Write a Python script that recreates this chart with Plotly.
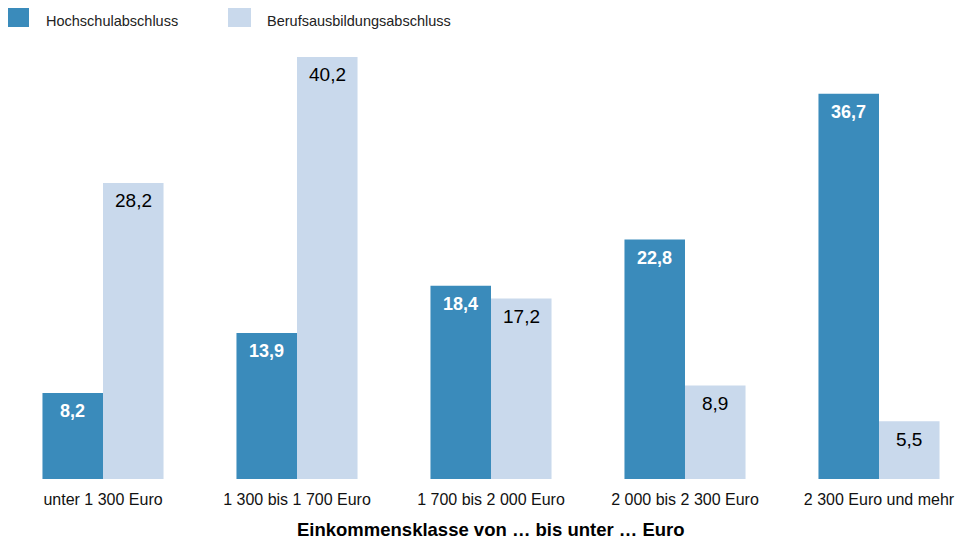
import plotly.graph_objects as go

categories = ["unter 1 300 Euro", "1 300 bis 1 700 Euro", "1 700 bis 2 000 Euro",
              "2 000 bis 2 300 Euro", "2 300 Euro und mehr"]
hochschule = [8.2, 13.9, 18.4, 22.8, 36.7]
beruf = [28.2, 40.2, 17.2, 8.9, 5.5]
series_names = ["Hochschulabschluss", "Berufsausbildungsabschluss"]
x_title = "Einkommensklasse von … bis unter … Euro"

DARK = "#3A8BBB"
LIGHT = "#C9D9EC"
FONT = "Liberation Sans, Arial, sans-serif"

OFF = 8  # page body margin
W, H = 963 - OFF, 539 - OFF
BASE_SCREEN = 479
MT = 40 - OFF
MB = (539 - BASE_SCREEN)
PLOT_H = H - MT - MB

def py(p):
    return (BASE_SCREEN - p) / PLOT_H

def px(p):
    return (p - OFF) / W

fmt = lambda v: f"{v:.1f}".replace(".", ",")

fig = go.Figure()
fig.add_trace(go.Bar(x=categories, y=hochschule, name=series_names[0],
                     marker=dict(color=DARK, line=dict(width=0)), showlegend=False))
fig.add_trace(go.Bar(x=categories, y=beruf, name=series_names[1],
                     marker=dict(color=LIGHT, line=dict(width=0)), showlegend=False))

annotations = []
for i, c in enumerate(categories):
    annotations.append(dict(x=c, y=hochschule[i], xref="x", yref="y", text=f"<b>{fmt(hochschule[i])}</b>",
                            showarrow=False, xshift=-30.3, yshift=-18,
                            font=dict(family=FONT, size=18, color="white"), yanchor="middle"))
    annotations.append(dict(x=c, y=beruf[i], xref="x", yref="y", text=fmt(beruf[i]),
                            showarrow=False, xshift=30.3, yshift=-18,
                            font=dict(family=FONT, size=19, color="black"), yanchor="middle"))

annotations.append(dict(x=categories[2], y=py(529), xref="x", yref="paper", text=f"<b>{x_title}</b>",
                        showarrow=False, font=dict(family=FONT, size=18.5, color="black"),
                        yanchor="middle", xanchor="center"))

# custom legend
shapes = []
legend_items = [(6, 44, DARK, series_names[0]), (228, 265, LIGHT, series_names[1])]
for sx, tx, col, name in legend_items:
    shapes.append(dict(type="rect", xref="paper", yref="paper",
                       x0=px(sx), x1=px(sx + 23), y0=py(27), y1=py(8),
                       fillcolor=col, line=dict(width=0)))
    annotations.append(dict(x=px(tx), y=py(21), xref="paper", yref="paper", text=name,
                            showarrow=False, xanchor="left", yanchor="middle",
                            font=dict(family=FONT, size=14.5, color="#222")))

fig.update_layout(
    width=W, height=H,
    margin=dict(l=0, r=0, t=MT, b=MB),
    paper_bgcolor="white", plot_bgcolor="white",
    barmode="group", bargap=0.376, bargroupgap=0,
    font=dict(family=FONT, color="black"),
    xaxis=dict(range=[-0.4897, 4.433], showgrid=False, zeroline=False, showline=False,
               ticks="", tickfont=dict(family=FONT, size=16, color="#111"),
               ticklabelstandoff=9),
    yaxis=dict(range=[0, PLOT_H / 10.5], visible=False, showgrid=False, zeroline=False),
    annotations=annotations, shapes=shapes,
)

fig.write_html("out.html")
